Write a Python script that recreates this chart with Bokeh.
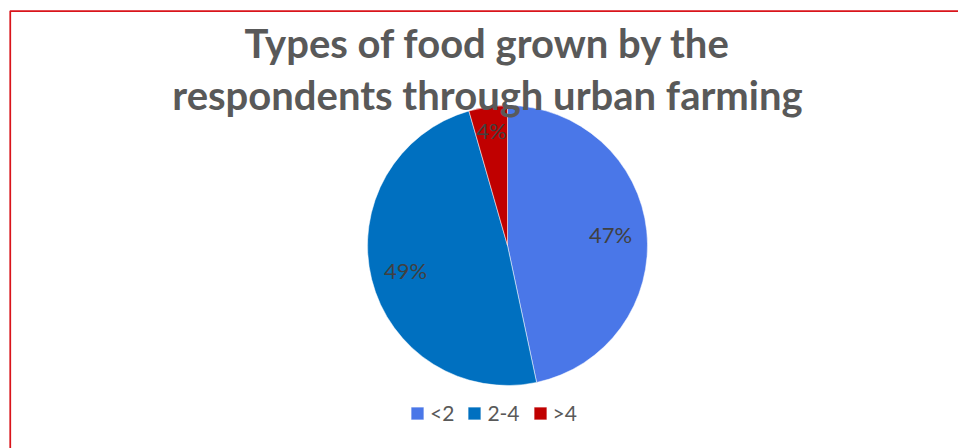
import math
from bokeh.plotting import figure
from bokeh.models import Range1d, Legend, LegendItem
from bokeh.core.properties import value
from bokeh.embed import file_html
from bokeh.resources import INLINE

# ---- data ----
categories = ["<2", "2-4", ">4"]
counts = [21, 22, 2]
colors = ["#4A77E8", "#0070C0", "#C00000"]
title_lines = ["Types of food grown by the", "respondents through urban farming"]

W, H = 958, 448
p = figure(width=W, height=H, output_backend="svg", toolbar_location=None,
           x_range=Range1d(0, W), y_range=Range1d(0, H),
           min_border=0, outline_line_color=None)
p.axis.visible = False
p.grid.visible = False
p.background_fill_color = "white"
p.border_fill_color = "white"

# red frame (only top & left visible in crop)
p.quad(left=[9.75], right=[W + 50], top=[H - 10.5], bottom=[-50],
       fill_color=None, line_color="#D9141B", line_width=1.75)

cx, cy, R = 507, H - 245, 140
total = sum(counts)
fracs = [c / total for c in counts]
starts, ends = [], []
a = math.pi / 2
for f in fracs:
    starts.append(a)
    a -= f * 2 * math.pi
    ends.append(a)

items = []
for i, cat in enumerate(categories):
    r = p.wedge(x=[cx], y=[cy], radius=R, start_angle=[starts[i]], end_angle=[ends[i]],
                direction="clock", fill_color=colors[i], line_color="white", line_width=0.5)
    items.append(LegendItem(label=cat, renderers=[r]))

# data labels
lab_r = [0.74, 0.75, 0.83]
lx, ly, lt = [], [], []
for i, f in enumerate(fracs):
    mid = (starts[i] + ends[i]) / 2
    lx.append(cx + lab_r[i] * R * math.cos(mid))
    ly.append(cy + lab_r[i] * R * math.sin(mid))
    lt.append(f"{round(f * 100)}%")
p.text(x=lx, y=ly, text=lt, text_align="center", text_baseline="middle",
       text_color="#404040", text_font=value("Lato"), text_font_size="22px")

# title
p.text(x=[487, 487], y=[H - 42, H - 94], text=title_lines, text_align="center",
       text_baseline="alphabetic", text_color="#595959", text_font=value("Lato"),
       text_font_size="40px", text_font_style="bold")

legend = Legend(items=items, orientation="horizontal", location=(409, 23),
                glyph_width=16, glyph_height=16, label_text_font_size="21px",
                label_text_font="Lato", label_text_color="#595959",
                spacing=12, label_standoff=5, padding=0, margin=0,
                border_line_color=None, background_fill_alpha=0)
p.add_layout(legend, "center")

open("out.html", "w").write(file_html(p, INLINE))
